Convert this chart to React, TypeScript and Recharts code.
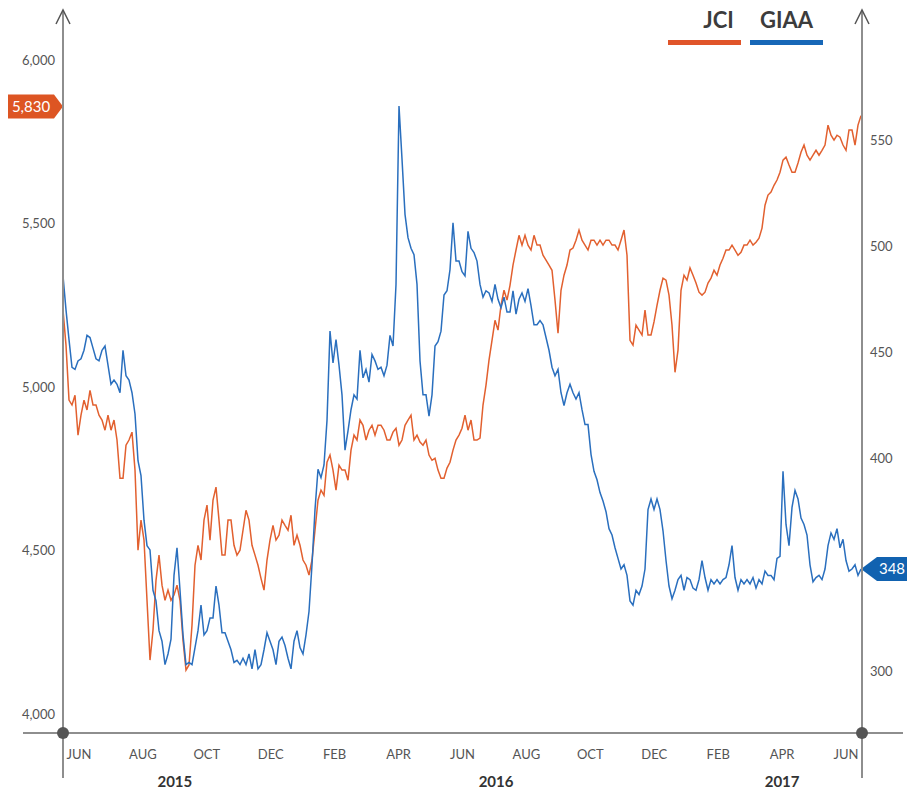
import React from "react";
import {
  LineChart,
  Line,
  XAxis,
  YAxis,
  ReferenceDot,
} from "recharts";

// sampled every ~3 px of the original, June 2015 -> June 2017
const jci = [
  5235, 5128, 4960, 4945, 4975, 4853, 4914, 4960, 4930, 4990, 4945, 4945, 4914, 4899, 4868, 4914, 4868, 4899, 4838, 4721, 4721, 4822, 4838, 4862, 4746, 4501,
  4593, 4532, 4348, 4165, 4257, 4409, 4486, 4394, 4348, 4379, 4348, 4364, 4394, 4348,
  4226, 4134, 4150, 4272, 4455, 4516, 4471, 4593, 4639, 4532, 4654, 4694, 4593, 4486, 4486, 4593, 4593, 4516, 4486, 4501,
  4562, 4623, 4593, 4516, 4486, 4455, 4415, 4379, 4471, 4532, 4577, 4532, 4547, 4593, 4577, 4562, 4608, 4516, 4547, 4516,
  4471, 4455, 4425, 4471, 4562, 4654, 4685, 4669, 4770, 4792, 4746, 4685, 4761, 4746, 4746, 4715, 4807, 4853, 4838, 4899,
  4883, 4838, 4868, 4883, 4853, 4883, 4883, 4868, 4838, 4838, 4862, 4874, 4822, 4838, 4883, 4899, 4914, 4838, 4853, 4832,
  4822, 4838, 4792, 4776, 4782, 4746, 4721, 4721, 4752, 4770, 4807, 4838, 4853, 4874, 4914, 4868, 4899, 4838, 4838, 4844,
  4945, 5006, 5082, 5143, 5204, 5174, 5250, 5296, 5266, 5311, 5373, 5419, 5464, 5434, 5464, 5434, 5419, 5464, 5434, 5434,
  5403, 5388, 5373, 5357, 5266, 5165, 5296, 5342, 5373, 5419, 5425, 5449, 5480, 5449, 5434, 5419, 5449, 5449, 5434, 5449,
  5434, 5449, 5449, 5434, 5434, 5419, 5449, 5480, 5403, 5143, 5128, 5189, 5174, 5159, 5235, 5159, 5159, 5199, 5250, 5296,
  5333, 5327, 5281, 5189, 5045, 5113, 5296, 5342, 5327, 5364, 5342, 5318, 5290, 5281, 5290, 5318, 5333, 5357, 5342, 5373,
  5394, 5419, 5419, 5434, 5419, 5403, 5412, 5434, 5434, 5449, 5434, 5443, 5455, 5486, 5556, 5587, 5596, 5617, 5633, 5657,
  5694, 5703, 5679, 5657, 5657, 5685, 5718, 5740, 5709, 5694, 5709, 5724, 5709, 5724, 5740, 5801, 5770, 5755, 5770, 5764,
  5740, 5724, 5786, 5786, 5740, 5801, 5830,
];

const giaa = [
  486, 470, 456, 443, 442, 446, 447, 451, 458, 457, 452, 447, 446, 451, 453, 444, 435, 437, 435, 431, 451, 439, 437, 431, 421, 399,
  392, 371, 359, 357, 338, 333, 319, 314, 303, 308, 315, 345, 358, 338,
  317, 303, 304, 303, 311, 319, 331, 317, 319, 325, 325, 340, 331, 318, 318, 314, 310, 304, 305, 303,
  306, 303, 308, 301, 310, 301, 303, 310, 318, 314, 310, 303, 314, 316, 312, 306, 301, 314, 319, 311,
  308, 317, 328, 350, 376, 395, 391, 397, 418, 460, 445, 456, 444, 430, 404, 413, 423, 430, 428, 451,
  438, 442, 436, 449, 446, 442, 443, 439, 444, 458, 453, 482, 566, 541, 515, 504, 499, 496, 482, 446,
  430, 430, 420, 430, 453, 455, 460, 477, 479, 489, 511, 493, 493, 488, 486, 507, 499, 497, 493, 482,
  476, 479, 478, 474, 482, 475, 471, 476, 469, 469, 479, 468, 475, 478, 474, 480, 472, 463, 463, 465,
  463, 457, 451, 443, 439, 442, 431, 425, 431, 435, 431, 428, 431, 423, 416, 416, 402, 394, 390, 384,
  380, 375, 367, 364, 358, 353, 348, 350, 345, 333, 331, 338, 336, 340, 348, 376, 381, 376, 381, 376,
  366, 352, 340, 334, 338, 343, 345, 338, 344, 343, 339, 338, 343, 352, 344, 338, 343, 341, 343, 341,
  343, 344, 350, 359, 344, 338, 343, 341, 343, 341, 344, 339, 343, 341, 347, 345, 345, 343, 353, 354,
  394, 369, 359, 377, 385, 381, 372, 369, 364, 350, 342, 344, 345, 343, 348, 359, 365, 362, 367, 358,
  362, 352, 347, 348, 350, 345, 348,
];

const monthLabels = ["JUN", "AUG", "OCT", "DEC", "FEB", "APR", "JUN", "AUG", "OCT", "DEC", "FEB", "APR", "JUN"];
const yearLabels = ["2015", "2016", "2017"];
const yearMonths = [3.5, 13.55, 22.5];
const leftTicks = [4000, 4500, 5000, 5500, 6000];
const rightTicks = [300, 400, 450, 500, 550];
const jciLast = 5830;
const giaaLast = 348;

const MONTHS = 25;
const LAST = jci.length - 1;
const END = LAST + 0.33;
const SPM = END / MONTHS;

const monthTicks = monthLabels.map((_, k) => (2 * k + 0.5) * SPM);
const yearTicks = yearMonths.map((m) => m * SPM);

const data = jci.map((v, i) => ({ i, jci: v, giaa: giaa[i] }));

const ORANGE = "#e2602f";
const BLUE = "#2a6fbe";
const AXIS = "#8e8e8e";
const FONT = "Lato, 'Open Sans', sans-serif";

const MonthTick = (p: any) => {
  const k = Math.round((p.payload.value / SPM - 0.5) / 2);
  return (
    <text x={p.x} y={p.y} dy={18} textAnchor="middle" fill="#555" fontSize={13} fontFamily={FONT}>
      {monthLabels[k]}
    </text>
  );
};

const YearTick = (p: any) => {
  const k = yearTicks.indexOf(p.payload.value);
  return (
    <text x={p.x} y={p.y} dy={16} textAnchor="middle" fill="#333" fontSize={15} fontWeight={700} fontFamily={FONT}>
      {yearLabels[k]}
    </text>
  );
};

const LeftTag = (p: any) => {
  const x = p.cx;
  const y = p.cy - 9;
  return (
    <g>
      <polygon points={`${x},${y} ${x - 9},${y - 12} ${x - 55},${y - 12} ${x - 55},${y + 12} ${x - 9},${y + 12}`} fill="#dd5523" />
      <text x={x - 32} y={y + 5} textAnchor="middle" fill="#fff" fontSize={15} fontFamily={FONT}>
        {jciLast.toLocaleString("en-US")}
      </text>
    </g>
  );
};

const RightTag = (p: any) => {
  const x = p.cx;
  const y = p.cy;
  return (
    <g>
      <polygon points={`${x},${y} ${x + 16},${y - 12} ${x + 46},${y - 12} ${x + 46},${y + 12} ${x + 16},${y + 12}`} fill="#1162b0" />
      <text x={x + 31} y={y + 5} textAnchor="middle" fill="#fff" fontSize={15} fontFamily={FONT}>
        {giaaLast}
      </text>
    </g>
  );
};

export default function App() {
  return (
    <div style={{ position: "absolute", left: 0, top: 0, width: 908, height: 793, background: "#fff", fontFamily: FONT }}>
      <LineChart width={908} height={793} data={data} margin={{ top: 10, right: 0, bottom: 0, left: 0 }}>
        <XAxis
          dataKey="i"
          type="number"
          domain={[0, END]}
          ticks={monthTicks}
          tick={<MonthTick />}
          tickLine={false}
          axisLine={false}
          height={30}
          interval={0}
        />
        <XAxis
          xAxisId="year"
          dataKey="i"
          type="number"
          domain={[0, END]}
          ticks={yearTicks}
          tick={<YearTick />}
          tickLine={false}
          axisLine={false}
          height={30}
          interval={0}
        />
        <YAxis
          yAxisId="left"
          width={63}
          domain={[3942, 6153]}
          ticks={leftTicks}
          tickFormatter={(v: number) => v.toLocaleString("en-US")}
          tick={{ fill: "#555", fontSize: 13, fontFamily: FONT }}
          tickLine={false}
          axisLine={{ stroke: AXIS, strokeWidth: 2 }}
          allowDataOverflow
        />
        <YAxis
          yAxisId="right"
          orientation="right"
          width={46}
          domain={[270.8, 611.2]}
          ticks={rightTicks}
          tick={{ fill: "#555", fontSize: 13, fontFamily: FONT }}
          tickLine={false}
          axisLine={{ stroke: AXIS, strokeWidth: 2 }}
          allowDataOverflow
        />
        <Line yAxisId="left" type="linear" dataKey="jci" stroke={ORANGE} strokeWidth={1.5} dot={false} isAnimationActive={false} />
        <Line yAxisId="right" type="linear" dataKey="giaa" stroke={BLUE} strokeWidth={1.5} dot={false} isAnimationActive={false} />
        <ReferenceDot yAxisId="left" x={0} y={jciLast} ifOverflow="visible" shape={<LeftTag />} />
        <ReferenceDot yAxisId="right" x={LAST} y={giaaLast} ifOverflow="visible" shape={<RightTag />} />
      </LineChart>

      {/* axis decorations: arrows, extensions, corner dots */}
      <svg width={908} height={793} style={{ position: "absolute", left: 0, top: 0, pointerEvents: "none" }}>
        <line x1={23} y1={733} x2={903} y2={733} stroke={AXIS} strokeWidth={2} />
        <line x1={63} y1={10} x2={63} y2={778} stroke={AXIS} strokeWidth={2} />
        <line x1={862} y1={10} x2={862} y2={778} stroke={AXIS} strokeWidth={2} />
        <polyline points="56,24 63,10 70,24" fill="none" stroke="#555" strokeWidth={1.5} />
        <polyline points="855,24 862,10 869,24" fill="none" stroke="#555" strokeWidth={1.5} />
        <circle cx={63} cy={733} r={6} fill="#555" />
        <circle cx={862} cy={733} r={6} fill="#555" />
      </svg>

      {/* legend */}
      <div style={{ position: "absolute", left: 668, top: 6, width: 73, textAlign: "center", fontSize: 22, fontWeight: 700, color: "#3c3c3c" }}>
        <span style={{ position: "relative", left: 14 }}>JCI</span>
      </div>
      <div style={{ position: "absolute", left: 668, top: 40, width: 73, height: 5, background: "#e0552a" }} />
      <div style={{ position: "absolute", left: 750, top: 6, width: 73, textAlign: "center", fontSize: 22, fontWeight: 700, color: "#3c3c3c" }}>
        GIAA
      </div>
      <div style={{ position: "absolute", left: 750, top: 40, width: 73, height: 5, background: "#1767b7" }} />
    </div>
  );
}
